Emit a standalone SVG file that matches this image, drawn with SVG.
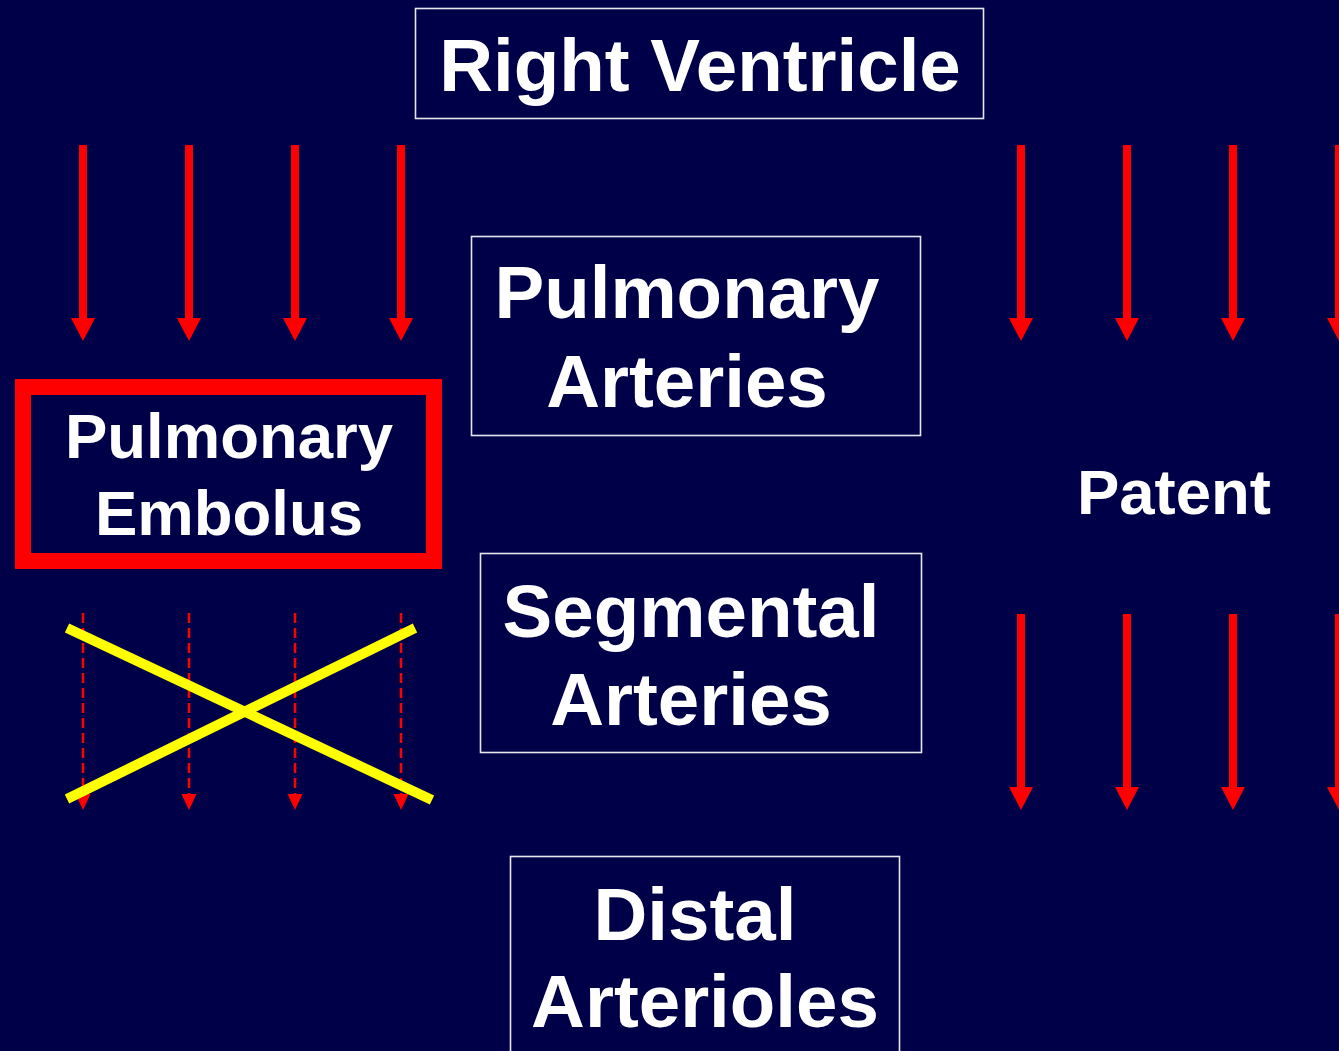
<svg xmlns="http://www.w3.org/2000/svg" width="1339" height="1051" viewBox="0 0 1339 1051">
<defs>
<style>
.bg{fill:#000048}
.box{fill:none;stroke:#E6E6EE;stroke-width:1.6}
.t{font-family:"Liberation Sans",Arial,sans-serif;font-weight:bold;fill:#FFFFFF;text-anchor:middle}
.big{font-size:74.5px}
.mid{font-size:63.5px}
.arrow{stroke:#FF0000;stroke-width:8;fill:none}
.dash{stroke:#FF0000;stroke-width:2.5;stroke-dasharray:10 5;fill:none}
.x{stroke:#FFFF00;stroke-width:10;fill:none}
</style>
<marker id="head" markerUnits="userSpaceOnUse" markerWidth="26" markerHeight="26" viewBox="0 -13 26 26" refX="2" refY="0" orient="auto">
<path d="M0,-12 L23,0 L0,12 z" fill="#FF0000"/>
</marker>
<marker id="headS" markerUnits="userSpaceOnUse" markerWidth="18" markerHeight="18" viewBox="0 -9 18 18" refX="1" refY="0" orient="auto">
<path d="M0,-7.5 L16,0 L0,7.5 z" fill="#FF0000"/>
</marker>
</defs>
<rect class="bg" x="0" y="0" width="1339" height="1051"/>

<g id="connectors">
<g id="upper-left-arrows">
<line class="arrow" x1="83" y1="145" x2="83" y2="320" marker-end="url(#head)"/>
<line class="arrow" x1="189" y1="145" x2="189" y2="320" marker-end="url(#head)"/>
<line class="arrow" x1="295" y1="145" x2="295" y2="320" marker-end="url(#head)"/>
<line class="arrow" x1="401" y1="145" x2="401" y2="320" marker-end="url(#head)"/>
</g>
<g id="upper-right-arrows">
<line class="arrow" x1="1021" y1="145" x2="1021" y2="320" marker-end="url(#head)"/>
<line class="arrow" x1="1127" y1="145" x2="1127" y2="320" marker-end="url(#head)"/>
<line class="arrow" x1="1233" y1="145" x2="1233" y2="320" marker-end="url(#head)"/>
<line class="arrow" x1="1339" y1="145" x2="1339" y2="320" marker-end="url(#head)"/>
</g>
<g id="lower-right-arrows">
<line class="arrow" x1="1021" y1="614" x2="1021" y2="789" marker-end="url(#head)"/>
<line class="arrow" x1="1127" y1="614" x2="1127" y2="789" marker-end="url(#head)"/>
<line class="arrow" x1="1233" y1="614" x2="1233" y2="789" marker-end="url(#head)"/>
<line class="arrow" x1="1339" y1="614" x2="1339" y2="789" marker-end="url(#head)"/>
</g>
<g id="blocked-arrows">
<line class="dash" x1="83" y1="613" x2="83" y2="795" marker-end="url(#headS)"/>
<line class="dash" x1="189" y1="613" x2="189" y2="795" marker-end="url(#headS)"/>
<line class="dash" x1="295" y1="613" x2="295" y2="795" marker-end="url(#headS)"/>
<line class="dash" x1="401" y1="613" x2="401" y2="795" marker-end="url(#headS)"/>
</g>
</g>

<g id="cross">
<line class="x" x1="67" y1="628" x2="432" y2="800"/>
<line class="x" x1="67" y1="799" x2="415" y2="628"/>
</g>

<g id="right-ventricle">
<rect class="box" x="415.5" y="8.5" width="568" height="110"/>
<text class="t big" x="700" y="91">Right Ventricle</text>
</g>

<g id="pulmonary-arteries">
<rect class="box" x="471.5" y="236.5" width="449" height="199"/>
<text class="t big" x="687" y="318">Pulmonary</text>
<text class="t big" x="687" y="407">Arteries</text>
</g>

<g id="pulmonary-embolus">
<rect x="23" y="387" width="411" height="174" fill="none" stroke="#FF0000" stroke-width="16"/>
<text class="t mid" x="229" y="458">Pulmonary</text>
<text class="t mid" x="229" y="535">Embolus</text>
</g>

<g id="segmental-arteries">
<rect class="box" x="480.5" y="553.5" width="441" height="199"/>
<text class="t big" x="691" y="637">Segmental</text>
<text class="t big" x="691" y="725">Arteries</text>
</g>

<g id="distal-arterioles">
<rect class="box" x="510.5" y="856.5" width="389" height="220"/>
<text class="t big" x="695" y="940">Distal</text>
<text class="t big" x="705" y="1027">Arterioles</text>
</g>

<g id="patent">
<text class="t mid" x="1174" y="514">Patent</text>
</g>
</svg>
